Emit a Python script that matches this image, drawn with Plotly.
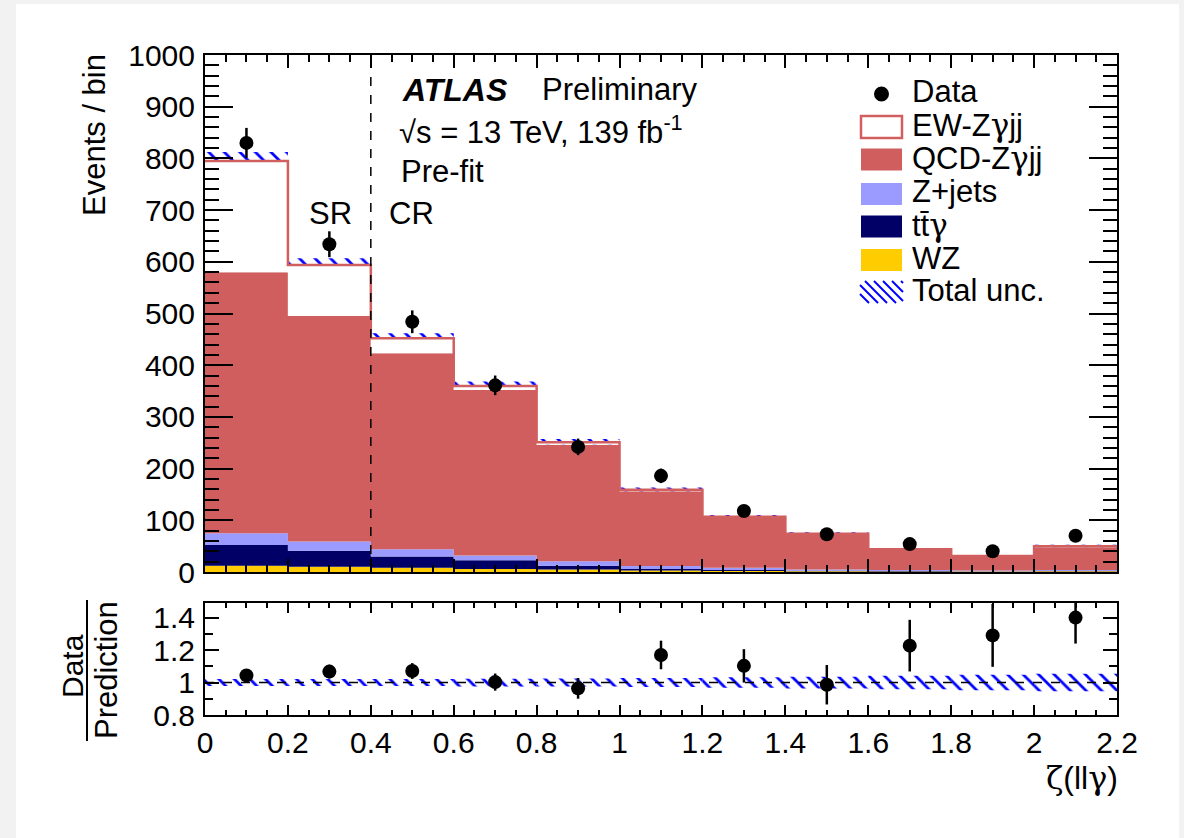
import plotly.graph_objects as go

# ---------------- data ----------------
bin_centers = [0.1, 0.3, 0.5, 0.7, 0.9, 1.1, 1.3, 1.5, 1.7, 1.9, 2.1]
bin_edges = [0.0, 0.2, 0.4, 0.6, 0.8, 1.0, 1.2, 1.4, 1.6, 1.8, 2.0, 2.2]
bin_width = 0.2

wz = [12, 10, 8, 6, 5, 3, 2, 1.5, 1, 1, 1.5]
ttgamma = [40, 31, 22, 16.5, 7, 3, 2, 1, 1, 0.5, 0.5]
zjets = [23, 18, 14, 9.5, 9, 5.5, 4, 2.5, 2, 1.5, 2]
qcd_zgjj = [505, 436, 379, 320, 225, 144.5, 98, 68, 39, 27, 44]
ew_zgjj = [215, 99, 29, 8, 5, 3, 1, 1, 1, 1, 2]

data = [830, 634, 484, 361, 242, 186, 118, 73, 54, 40, 70]
data_err = [29, 25, 22, 19, 16, 14, 11, 9, 7, 6, 8]
rel_unc = [0.022, 0.022, 0.022, 0.024, 0.025, 0.028, 0.032, 0.036, 0.042, 0.048, 0.054]

sr_cr_boundary = 0.4

# ---------------- style ----------------
C_EW_LINE = "#d25f5f"
C_QCD = "#d05e5e"
C_ZJ = "#9b9bff"
C_TTG = "#000066"
C_WZ = "#ffcc00"
C_HATCH = "#0000ff"
FONT = "Liberation Sans, Arial, sans-serif"
GREEK = "<span style='font-family:DejaVu Serif'>%s</span>"
g_gamma = GREEK % "γ"
g_zeta = GREEK % "ζ"

W, H = 1184, 838
L, R, T, B = 205, 67, 55, 123
PW = W - L - R
PH = H - T - B


def px2x(px):
    return (px - L) / PW


def py2y(py):
    return (H - B - py) / PH


n = len(bin_centers)
stack = [wz, ttgamma, zjets, qcd_zgjj, ew_zgjj]
stack_colors = [C_WZ, C_TTG, C_ZJ, C_QCD, "#ffffff"]
levels = [[0.0] * n]
for comp in stack:
    levels.append([levels[-1][i] + comp[i] for i in range(n)])
total = levels[-1]

fig = go.Figure()

# baseline for stacked step fills
fig.add_trace(go.Scatter(
    x=bin_edges, y=levels[0] + [levels[0][-1]], mode="lines",
    line=dict(width=0, shape="hv"), xaxis="x", yaxis="y",
    showlegend=False, hoverinfo="skip"))
for lev, col in zip(levels[1:], stack_colors):
    fig.add_trace(go.Scatter(
        x=bin_edges, y=lev + [lev[-1]], mode="lines",
        line=dict(width=0, shape="hv"), fill="tonexty", fillcolor=col,
        xaxis="x", yaxis="y", showlegend=False, hoverinfo="skip"))

# red outline of the total stack (EW-Zγjj line)
fig.add_trace(go.Scatter(
    x=bin_edges, y=total + [total[-1]], mode="lines",
    line=dict(color=C_EW_LINE, width=2.5, shape="hv"),
    xaxis="x", yaxis="y", showlegend=False, hoverinfo="skip"))

hatch = dict(shape="\\", fgcolor=C_HATCH, fgopacity=1, bgcolor="rgba(255,255,255,0)",
             size=11, solidity=0.25, fillmode="replace")

# total uncertainty band in main panel
fig.add_trace(go.Bar(
    x=bin_centers,
    y=[2 * total[i] * rel_unc[i] for i in range(n)],
    base=[total[i] * (1 - rel_unc[i]) for i in range(n)],
    width=bin_width, opacity=1,
    marker=dict(color="rgba(255,255,255,0)", opacity=1, line=dict(width=0), pattern=hatch),
    xaxis="x", yaxis="y", showlegend=False, hoverinfo="skip"))

# data points
fig.add_trace(go.Scatter(
    x=bin_centers, y=data, mode="markers",
    marker=dict(color="black", size=14),
    error_y=dict(type="data", array=data_err, color="black", thickness=2.5, width=0),
    xaxis="x", yaxis="y", showlegend=False))

# ratio panel
fig.add_trace(go.Bar(
    x=bin_centers,
    y=[2 * u for u in rel_unc],
    base=[1 - u for u in rel_unc],
    width=bin_width, opacity=1,
    marker=dict(color="rgba(255,255,255,0)", opacity=1, line=dict(width=0), pattern=hatch),
    xaxis="x2", yaxis="y2", showlegend=False, hoverinfo="skip"))

fig.add_trace(go.Scatter(
    x=[bin_edges[0], bin_edges[-1]], y=[1, 1], mode="lines",
    line=dict(color="black", width=1.5, dash="dash"),
    xaxis="x2", yaxis="y2", showlegend=False, hoverinfo="skip"))

fig.add_trace(go.Scatter(
    x=bin_centers, y=[data[i] / total[i] for i in range(n)], mode="markers",
    marker=dict(color="black", size=14),
    error_y=dict(type="data", array=[data_err[i] / total[i] for i in range(n)],
                 color="black", thickness=2.5, width=0),
    xaxis="x2", yaxis="y2", showlegend=False))

# ---------------- axes ----------------
main_bottom = py2y(572)
ratio_top = py2y(603)

axis_common = dict(showline=True, linecolor="black", linewidth=2, mirror="ticks",
                   ticks="inside", tickcolor="black", tickwidth=1.5,
                   showgrid=False, zeroline=False,
                   tickfont=dict(family=FONT, size=30, color="black"))

fig.update_layout(
    width=W, height=H, autosize=False,
    margin=dict(l=L, r=R, t=T, b=B),
    paper_bgcolor="#f2f2f2", plot_bgcolor="white",
    barmode="overlay",
    showlegend=False,
    xaxis=dict(axis_common, domain=[0, 1], range=[0, 2.2], anchor="y",
               dtick=0.2, tick0=0, ticklen=13, showticklabels=False,
               minor=dict(dtick=0.05, ticks="inside", ticklen=7, tickcolor="black", tickwidth=1.5)),
    yaxis=dict(axis_common, domain=[main_bottom, 1], range=[0, 1000], anchor="x",
               dtick=100, tick0=0, ticklen=28, ticklabelstandoff=2,
               minor=dict(dtick=20, ticks="inside", ticklen=14, tickcolor="black", tickwidth=1.5)),
    xaxis2=dict(axis_common, domain=[0, 1], range=[0, 2.2], anchor="y2",
                dtick=0.2, tick0=0, ticklen=10, ticklabelstandoff=0,
                minor=dict(dtick=0.05, ticks="inside", ticklen=5, tickcolor="black", tickwidth=1.5)),
    yaxis2=dict(axis_common, domain=[0, ratio_top], range=[0.8, 1.49], anchor="x2",
                dtick=0.2, tick0=0.8, ticklen=14, ticklabelstandoff=2,
                minor=dict(dtick=0.1, ticks="inside", ticklen=8, tickcolor="black", tickwidth=1.5)),
)

shapes = []
# white card behind the figure
shapes.append(dict(type="rect", xref="paper", yref="paper",
                   x0=px2x(16), x1=px2x(1179), y0=py2y(838), y1=py2y(4),
                   fillcolor="white", line=dict(width=0), layer="below"))
# SR / CR boundary
shapes.append(dict(type="line", xref="x", yref="y", x0=sr_cr_boundary, x1=sr_cr_boundary,
                   y0=0, y1=985, line=dict(color="black", width=1.5, dash="dash")))

annotations = []


def ann(text, px, py, xanchor="left", yanchor="middle", size=31, angle=0):
    annotations.append(dict(text=text, x=px2x(px), y=py2y(py), xref="paper", yref="paper",
                            xanchor=xanchor, yanchor=yanchor, showarrow=False,
                            textangle=angle, font=dict(family=FONT, size=size, color="black")))


ann("<b><i>ATLAS</i></b>", 400, 90, size=32)
ann("Preliminary", 540, 90)
ann("√s = 13 TeV, 139 fb<sup>-1</sup>", 397, 130)
ann("Pre-fit", 399, 171)
ann("SR", 330, 213, xanchor="center")
ann("CR", 387, 213)
ann("Events / bin", 95, 52, xanchor="center", yanchor="top", size=31, angle=-90)
ann(g_zeta + "(ll" + g_gamma + ")", 1120, 778, xanchor="right", size=32)
ann("Data", 72, 666, xanchor="center", size=30, angle=-90)
ann("Prediction", 106, 670, xanchor="center", size=31, angle=-90)
shapes.append(dict(type="line", xref="paper", yref="paper", x0=px2x(87), x1=px2x(87),
                   y0=py2y(600), y1=py2y(741), line=dict(color="black", width=2)))

# ---------------- legend (drawn manually, ROOT style) ----------------
bx0, bx1 = 860, 903
rows = [94, 127, 159.5, 194, 226.5, 260, 292]
labels = ["Data", "EW-Z" + g_gamma + "jj", "QCD-Z" + g_gamma + "jj", "Z+jets",
          "tt\u0304" + g_gamma, "WZ", "Total unc."]
for lab, yc in zip(labels, rows):
    ann(lab, 910, yc - 2, size=31)

shapes.append(dict(type="circle", xref="paper", yref="paper",
                   x0=px2x(881.5 - 7.5), x1=px2x(881.5 + 7.5),
                   y0=py2y(rows[0] + 7.5), y1=py2y(rows[0] - 7.5),
                   fillcolor="black", line=dict(width=0)))
box_fills = [("white", C_EW_LINE), (C_QCD, None), (C_ZJ, None), (C_TTG, None), (C_WZ, None)]
for (fc, lc), yc in zip(box_fills, rows[1:6]):
    shapes.append(dict(type="rect", xref="paper", yref="paper",
                       x0=px2x(bx0 + 1), x1=px2x(bx1 - 1),
                       y0=py2y(yc + 11), y1=py2y(yc - 11),
                       fillcolor=fc,
                       line=dict(width=2.5 if lc else 0, color=lc if lc else fc)))
# hatched legend box
hy0, hy1 = rows[6] - 11, rows[6] + 11
hh = hy1 - hy0
c = bx0 - hh
while c < bx1:
    xa = max(bx0, c)
    xb = min(bx1, c + hh)
    if xb > xa:
        shapes.append(dict(type="line", xref="paper", yref="paper",
                           x0=px2x(xa), y0=py2y(hy0 + (xa - c)),
                           x1=px2x(xb), y1=py2y(hy0 + (xb - c)),
                           line=dict(color=C_HATCH, width=2)))
    c += 9

fig.update_layout(shapes=shapes, annotations=annotations)

fig.write_html("out.html")
